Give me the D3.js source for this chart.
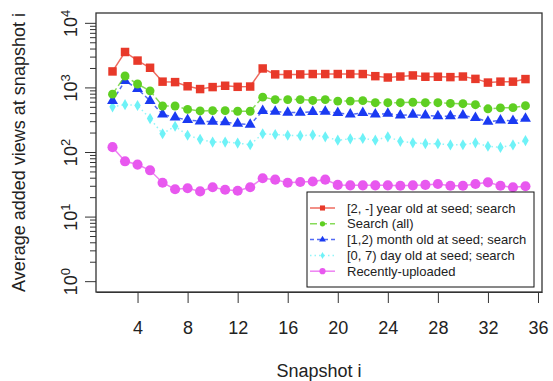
<!DOCTYPE html>
<html>
<head>
<meta charset="utf-8">
<script src="https://cdn.jsdelivr.net/npm/d3@7/dist/d3.min.js"></script>
<style>
  html, body { margin: 0; padding: 0; background: #fff; }
  svg { display: block; font-family: "Liberation Sans", Arial, sans-serif; }
</style>
</head>
<body>
<div id="chart"></div>
<script>
// snapshot index
const snapshots = d3.range(2, 36);

// series values
const yearOld = [1800, 3600, 2650, 2050, 1250, 1230, 1060, 960, 1030, 1080, 1040, 1050,
  2000, 1620, 1620, 1620, 1640, 1640, 1640, 1640, 1640, 1520, 1450, 1500, 1560, 1490,
  1490, 1470, 1500, 1380, 1210, 1250, 1250, 1370];
const searchAll = [800, 1530, 1150, 900, 525, 525, 465, 440, 445, 445, 435, 435,
  720, 660, 660, 660, 640, 660, 625, 625, 635, 590, 590, 590, 600, 590,
  590, 575, 570, 550, 475, 490, 495, 530];
const monthOld = [630, 1290, 970, 630, 390, 350, 320, 305, 300, 295, 280, 270,
  440, 430, 415, 415, 425, 430, 410, 390, 410, 390, 400, 375, 385, 375,
  365, 365, 375, 345, 300, 315, 310, 335];
const dayOld = [510, 550, 535, 335, 195, 255, 185, 160, 145, 145, 140, 132,
  195, 190, 185, 182, 187, 175, 155, 163, 165, 155, 175, 149, 141, 137,
  137, 131, 132, 141, 125, 120, 131, 153];
const recent = [121, 73, 65, 53, 34, 27, 28, 25, 29, 26.5, 25.6, 29,
  40, 38, 34, 35, 35.5, 38, 31.5, 31, 31, 31, 31, 30.5, 31, 31.5,
  32.5, 30.5, 30.5, 32.5, 34.5, 30.5, 29, 30];

const seriesNames = ['[2, -] year old at seed; search', 'Search (all)',
  '[1,2) month old at seed; search', '[0, 7) day old at seed; search', 'Recently-uploaded'];
const xTicks = [4, 8, 12, 16, 20, 24, 28, 32, 36];
const yExponents = [0, 1, 2, 3, 4];

const series = [
  { name: seriesNames[0], values: yearOld,   color: '#e8392a', dash: null,  shape: d3.symbolSquare,   size: 72, lsize: 26 },
  { name: seriesNames[1], values: searchAll, color: '#5fcf22', dash: '7,3', shape: d3.symbolCircle,   size: 62, lsize: 22 },
  { name: seriesNames[2], values: monthOld,  color: '#1a3af2', dash: '4,3', shape: d3.symbolTriangle, size: 52, lsize: 20 },
  { name: seriesNames[3], values: dayOld,    color: '#6ef2f7', dash: '1.5,3', shape: d3.symbolDiamond, size: 36, lsize: 14 },
  { name: seriesNames[4], values: recent,    color: '#e858ef', dash: null,  shape: d3.symbolCircle,   size: 80, lsize: 30 }
];

const width = 553, height = 381;
const box = { left: 96, right: 542, top: 13, bottom: 292 };

const svg = d3.select('#chart').append('svg')
  .attr('width', width)
  .attr('height', height);

const x = d3.scaleLinear().domain([0.68, 36.32]).range([box.left, box.right]);
const y = d3.scaleLog().domain([Math.pow(10, -0.16), Math.pow(10, 4.16)]).range([box.bottom, box.top]);

// plot box
svg.append('rect')
  .attr('x', box.left).attr('y', box.top)
  .attr('width', box.right - box.left).attr('height', box.bottom - box.top)
  .attr('fill', 'none').attr('stroke', '#333').attr('stroke-width', 1.3);

// x axis
const xAxis = svg.append('g')
  .attr('transform', `translate(0,${box.bottom})`)
  .call(d3.axisBottom(x).tickValues(xTicks).tickSize(11).tickPadding(18).tickSizeOuter(0));
xAxis.select('.domain').attr('stroke', '#333');
xAxis.selectAll('.tick line').attr('stroke', '#333');
xAxis.selectAll('.tick text')
  .attr('font-size', 18).attr('fill', '#222')
  .attr('font-family', '"Liberation Sans", Arial, sans-serif');

// y axis: minor ticks then major ticks
const minor = [];
yExponents.slice(0, -1).forEach(e => {
  for (let m = 2; m <= 9; m++) minor.push(m * Math.pow(10, e));
});
svg.append('g').selectAll('line')
  .data(minor).enter().append('line')
  .attr('x1', box.left - 6).attr('x2', box.left)
  .attr('y1', d => y(d)).attr('y2', d => y(d))
  .attr('stroke', '#333');

const majors = yExponents.map(e => Math.pow(10, e));
svg.append('g').selectAll('line')
  .data(majors).enter().append('line')
  .attr('x1', box.left - 11).attr('x2', box.left)
  .attr('y1', d => y(d)).attr('y2', d => y(d))
  .attr('stroke', '#333');

const yLab = svg.append('g').selectAll('text')
  .data(yExponents).enter().append('text')
  .attr('transform', d => `translate(77,${y(Math.pow(10, d))}) rotate(-90)`)
  .attr('text-anchor', 'middle')
  .attr('font-size', 18)
  .attr('fill', '#222');
yLab.append('tspan').text('10');
yLab.append('tspan').attr('dy', -7).attr('font-size', 13).text(d => d);

// axis titles
svg.append('text')
  .attr('x', (box.left + box.right) / 2).attr('y', 377)
  .attr('text-anchor', 'middle').attr('font-size', 18).attr('fill', '#222')
  .text('Snapshot i');
svg.append('text')
  .attr('transform', `translate(25,${(box.top + box.bottom) / 2}) rotate(-90)`)
  .attr('text-anchor', 'middle').attr('font-size', 18).attr('fill', '#222')
  .text('Average added views at snapshot i');

// lines and points, drawn bottom series first
const line = d3.line().x(d => x(d[0])).y(d => y(d[1]));
series.slice().reverse().forEach(s => {
  const pts = snapshots.map((k, i) => [k, s.values[i]]);
  const g = svg.append('g');
  g.append('path')
    .attr('d', line(pts))
    .attr('fill', 'none')
    .attr('stroke', s.color)
    .attr('stroke-opacity', 0.75)
    .attr('stroke-width', 1.5)
    .attr('stroke-dasharray', s.dash);
  g.selectAll('path.pt')
    .data(pts).enter().append('path')
    .attr('class', 'pt')
    .attr('transform', d => `translate(${x(d[0])},${y(d[1])})`)
    .attr('d', d3.symbol().type(s.shape).size(s.size))
    .attr('fill', s.color);
});

// legend
const lg = { x: 307, y: 192, w: 227, h: 95 };
svg.append('rect')
  .attr('x', lg.x).attr('y', lg.y).attr('width', lg.w).attr('height', lg.h)
  .attr('fill', '#fff').attr('stroke', '#111').attr('stroke-width', 1);

const items = svg.append('g').selectAll('g')
  .data(series).enter().append('g')
  .attr('transform', (d, i) => `translate(0,${208 + i * 15.8})`);
items.append('line')
  .attr('x1', 310).attr('x2', 335)
  .attr('stroke', d => d.color)
  .attr('stroke-opacity', 0.75)
  .attr('stroke-width', 1.5)
  .attr('stroke-dasharray', d => d.dash);
items.append('path')
  .attr('transform', 'translate(322.5,0)')
  .attr('d', d => d3.symbol().type(d.shape).size(d.lsize)())
  .attr('fill', d => d.color);
items.append('text')
  .attr('x', 347).attr('y', 4.5)
  .attr('font-size', 13).attr('fill', '#222')
  .text(d => d.name);
</script>
</body>
</html>
